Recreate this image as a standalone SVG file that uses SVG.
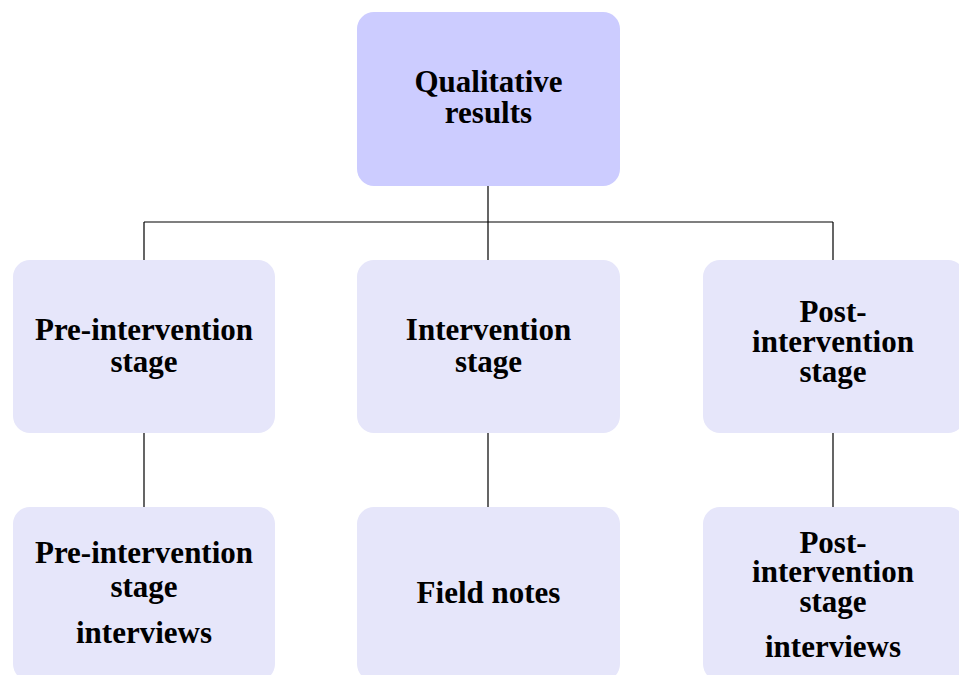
<svg xmlns="http://www.w3.org/2000/svg" width="959" height="675" viewBox="0 0 959 675">
  <style>
    .box { fill: #e6e6fa; }
    .root { fill: #ccccff; }
    .lbl { font-family: "Liberation Serif", "Times New Roman", serif; font-weight: bold; font-size: 31px; fill: #000; text-anchor: middle; }
    .wire { stroke: #000; stroke-width: 1.2; fill: none; }
  </style>
  <rect width="959" height="675" fill="#ffffff"/>

  <g id="connectors">
    <path class="wire" d="M488,186 V222 M144,222 H833 M144,222 V260 M488,222 V260 M833,222 V260"/>
    <path class="wire" d="M144,433 V507 M488,433 V507 M833,433 V507"/>
  </g>

  <g id="qualitative-results">
    <rect class="root" x="357" y="12" width="263" height="174" rx="17"/>
    <text class="lbl" x="488.5" y="92">Qualitative</text>
    <text class="lbl" x="488.5" y="123">results</text>
  </g>

  <g id="pre-intervention-stage">
    <rect class="box" x="13" y="260" width="262" height="173" rx="17"/>
    <text class="lbl" x="144" y="340">Pre-intervention</text>
    <text class="lbl" x="144" y="372">stage</text>
  </g>

  <g id="intervention-stage">
    <rect class="box" x="357" y="260" width="263" height="173" rx="17"/>
    <text class="lbl" x="488.5" y="340">Intervention</text>
    <text class="lbl" x="488.5" y="372">stage</text>
  </g>

  <g id="post-intervention-stage">
    <rect class="box" x="703" y="260" width="262" height="173" rx="17"/>
    <text class="lbl" x="833" y="322">Post-</text>
    <text class="lbl" x="833" y="352">intervention</text>
    <text class="lbl" x="833" y="382">stage</text>
  </g>

  <g id="pre-intervention-interviews">
    <rect class="box" x="13" y="507" width="262" height="174" rx="17"/>
    <text class="lbl" x="144" y="563">Pre-intervention</text>
    <text class="lbl" x="144" y="597">stage</text>
    <text class="lbl" x="144" y="643">interviews</text>
  </g>

  <g id="field-notes">
    <rect class="box" x="357" y="507" width="263" height="174" rx="17"/>
    <text class="lbl" x="488.5" y="603">Field notes</text>
  </g>

  <g id="post-intervention-interviews">
    <rect class="box" x="703" y="507" width="262" height="174" rx="17"/>
    <text class="lbl" x="833" y="553">Post-</text>
    <text class="lbl" x="833" y="582">intervention</text>
    <text class="lbl" x="833" y="612">stage</text>
    <text class="lbl" x="833" y="657">interviews</text>
  </g>
</svg>
